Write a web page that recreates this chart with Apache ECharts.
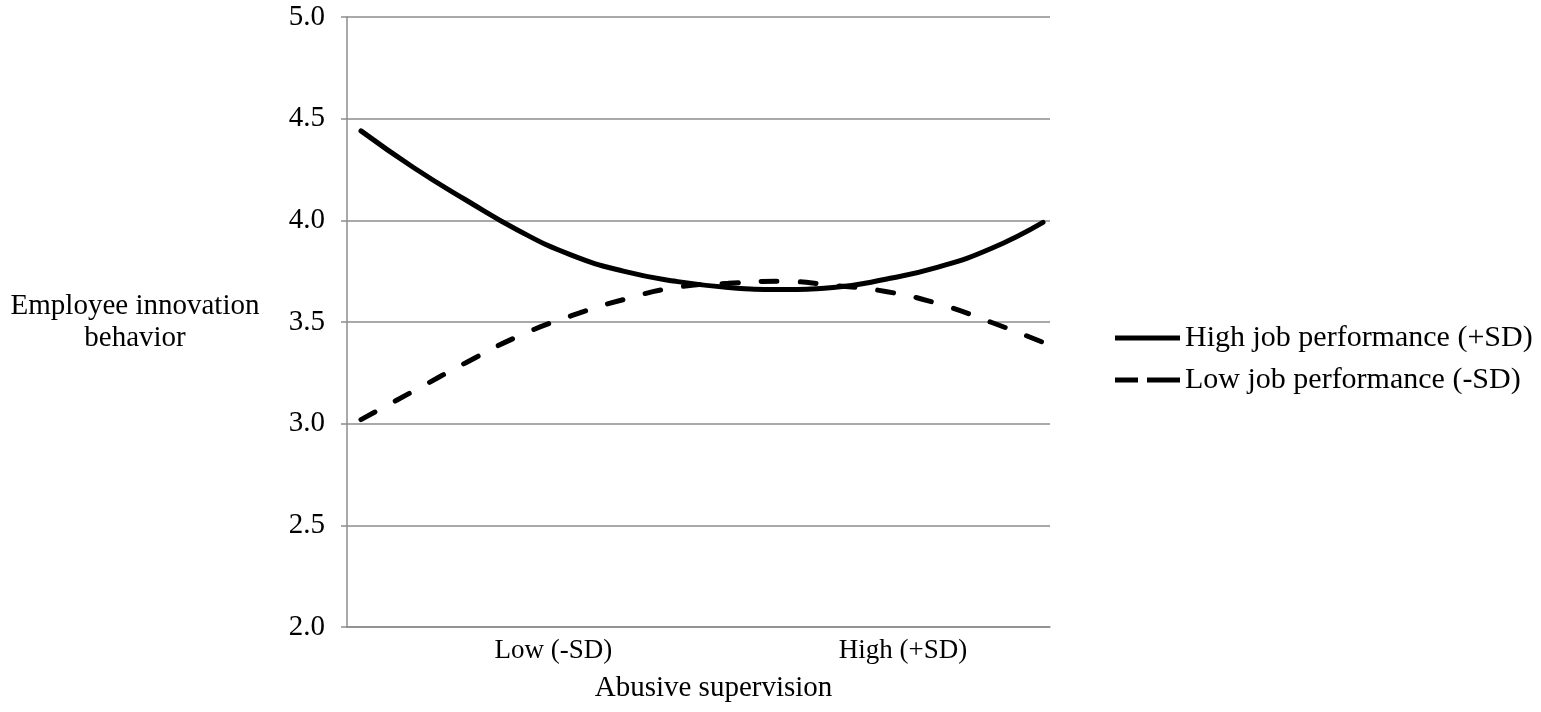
<!DOCTYPE html>
<html>
<head>
<meta charset="utf-8">
<script src="https://cdn.jsdelivr.net/npm/echarts@6/dist/echarts.min.js"></script>
<style>html,body{margin:0;padding:0;background:#fff;}#c{width:1541px;height:712px;}</style>
</head>
<body>
<div id="c"></div>
<script>
// Abusive supervision (standardised, read along the x axis)
const xValues = [-2.1, -1.8, -1.5, -1.2, -0.9, -0.6, -0.3, 0, 0.3, 0.6, 0.9, 1.2, 1.5, 1.8];
// Employee innovation behavior
const highPerf = [4.44, 4.26, 4.10, 3.95, 3.83, 3.75, 3.70, 3.67, 3.66, 3.67, 3.71, 3.77, 3.86, 3.99];
const lowPerf  = [3.02, 3.16, 3.30, 3.43, 3.53, 3.61, 3.67, 3.69, 3.70, 3.68, 3.65, 3.59, 3.50, 3.40];
const seriesNames = ['High job performance (+SD)', 'Low job performance (-SD)'];
const xTickValues = [-1, 1];
const xTickLabels = ['Low (-SD)', 'High (+SD)'];
const yTicks = [2.0, 2.5, 3.0, 3.5, 4.0, 4.5, 5.0];

const font = '"Liberation Serif", "Times New Roman", serif';
const chart = echarts.init(document.getElementById('c'), null, {renderer: 'canvas'});
const pairs = arr => xValues.map((x, i) => [x, arr[i]]);

chart.setOption({
  animation: false,
  backgroundColor: '#fff',
  grid: {left: 347, right: 491, top: 17, bottom: 85, containLabel: false},
  xAxis: {
    type: 'value', min: -2.18, max: 1.84,
    name: 'Abusive supervision', nameLocation: 'middle', nameGap: 47,
    nameTextStyle: {fontFamily: font, fontSize: 29, color: '#000', padding: [0, 0, 0, 30]},
    axisLine: {show: true, onZero: false, lineStyle: {color: '#8c8c8c', width: 1.5}},
    axisTick: {show: false},
    splitLine: {show: false},
    axisLabel: {
      customValues: xTickValues,
      formatter: v => xTickLabels[xTickValues.indexOf(v)] || '',
      fontFamily: font, fontSize: 27, color: '#000', margin: 10
    }
  },
  yAxis: {
    type: 'value', min: yTicks[0], max: yTicks[yTicks.length - 1], interval: 0.5,
    name: 'Employee innovation\nbehavior', nameLocation: 'middle', nameRotate: 0, nameGap: 212,
    nameTextStyle: {fontFamily: font, fontSize: 29, color: '#000', align: 'center', lineHeight: 32},
    axisLine: {show: true, onZero: false, lineStyle: {color: '#8c8c8c', width: 1.5}},
    axisTick: {show: true, length: 6, lineStyle: {color: '#8c8c8c', width: 1.5}},
    splitLine: {show: true, lineStyle: {color: '#8c8c8c', width: 1.5}},
    axisLabel: {formatter: v => v.toFixed(1), fontFamily: font, fontSize: 29, color: '#000', margin: 22}
  },
  legend: {
    orient: 'vertical', left: 1110, top: 318, itemGap: 12,
    itemWidth: 65, itemHeight: 5,
    itemStyle: {color: '#000', borderWidth: 0},
    textStyle: {fontFamily: font, fontSize: 30, color: '#000'},
    data: [
      {name: seriesNames[0], icon: 'path://M0,0H65V5H0Z'},
      {name: seriesNames[1], icon: 'path://M0,0H23V5H0Z M32,0H65V5H32Z'}
    ]
  },
  series: [
    {
      name: seriesNames[0], type: 'line', smooth: true, symbol: 'none',
      data: pairs(highPerf),
      itemStyle: {color: '#000'},
      lineStyle: {color: '#000', width: 5, cap: 'round'}
    },
    {
      name: seriesNames[1], type: 'line', smooth: true, symbol: 'none',
      data: pairs(lowPerf),
      itemStyle: {color: '#000'},
      lineStyle: {color: '#000', width: 5, type: [16, 23], cap: 'round'}
    }
  ]
});
</script>
</body>
</html>
